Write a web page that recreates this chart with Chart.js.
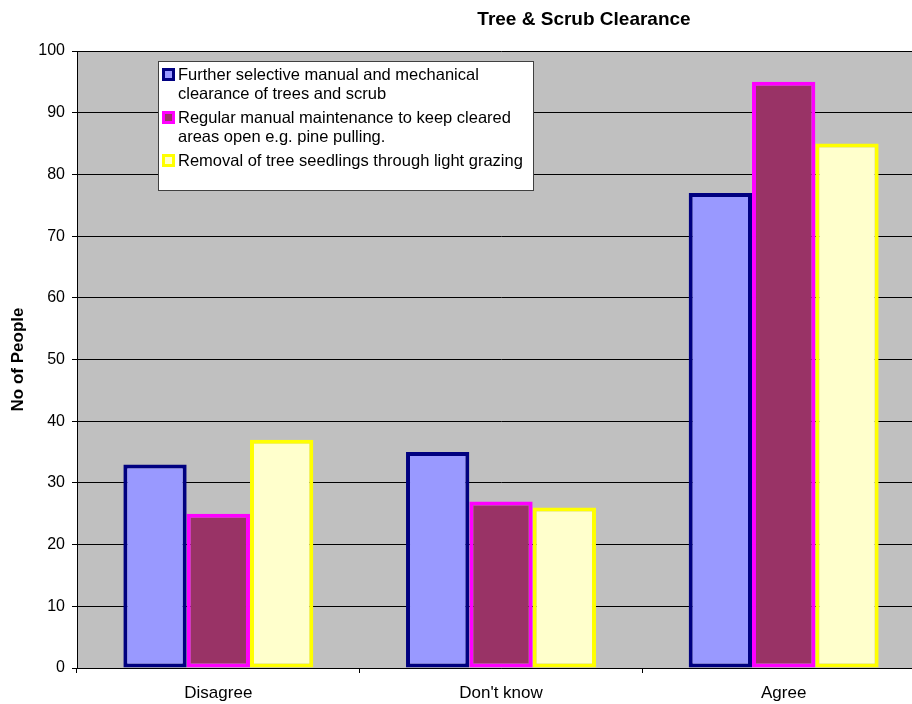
<!DOCTYPE html>
<html>
<head>
<meta charset="utf-8">
<script src="https://cdn.jsdelivr.net/npm/chart.js@4/dist/chart.umd.min.js"></script>
<style>
  html, body { margin: 0; padding: 0; background: #fff; overflow: hidden; }
  /* plot area runs past the right edge in the original, so the canvas is a bit wider */
  #wrap { width: 925px; height: 704px; }
</style>
</head>
<body>
<div id="wrap"><canvas id="chart"></canvas></div>
<script>
const categories = ["Disagree", "Don't know", "Agree"];
const seriesLabels = [
  "Further selective manual and mechanical clearance of trees and scrub",
  "Regular manual maintenance to keep cleared areas open e.g. pine pulling.",
  "Removal of tree seedlings through light grazing"
];
// legend wraps like the original
const legendLines = [
  ["Further selective manual and mechanical", "clearance of trees and scrub"],
  ["Regular manual maintenance to keep cleared", "areas open e.g. pine pulling."],
  ["Removal of tree seedlings through light grazing"]
];
const selectiveClearance = [33, 35, 77];
const manualMaintenance = [25, 27, 95];
const lightGrazing = [37, 26, 85];
const yTicks = [0, 10, 20, 30, 40, 50, 60, 70, 80, 90, 100];

const fills = ["#9999FF", "#993366", "#FFFFCC"];
const borders = ["#000080", "#FF00FF", "#FFFF00"];
const FONT = "Arial, 'Liberation Sans', sans-serif";

const bgPlugin = {
  id: "plotBg",
  beforeDraw(chart) {
    const { ctx, chartArea: a } = chart;
    ctx.save();
    ctx.fillStyle = "#C0C0C0";
    ctx.fillRect(a.left, a.top, a.right - a.left, a.bottom - a.top);
    ctx.restore();
  }
};

const titlePlugin = {
  id: "topTitle",
  afterDraw(chart) {
    const ctx = chart.ctx;
    ctx.save();
    ctx.font = "bold 19px " + FONT;
    ctx.fillStyle = "#000";
    ctx.textAlign = "center";
    ctx.textBaseline = "middle";
    ctx.fillText("Tree & Scrub Clearance", 584, 20);
    ctx.restore();
  }
};

const boxLegend = {
  id: "boxLegend",
  afterDraw(chart) {
    const ctx = chart.ctx;
    const x0 = 158, y0 = 61, w = 375, h = 129;
    ctx.save();
    ctx.fillStyle = "#fff";
    ctx.fillRect(x0, y0, w, h);
    ctx.strokeStyle = "#404040";
    ctx.lineWidth = 1;
    ctx.strokeRect(x0 + 0.5, y0 + 0.5, w, h);
    ctx.font = "16.5px " + FONT;
    ctx.textBaseline = "middle";
    const rowY = [[75, 94], [118, 137], [161]];
    chart.data.datasets.forEach((ds, i) => {
      const y = rowY[i][0];
      ctx.fillStyle = ds.borderColor;
      ctx.fillRect(162, y - 7, 13, 13);
      ctx.fillStyle = ds.backgroundColor;
      ctx.fillRect(165, y - 4, 7, 7);
      ctx.fillStyle = "#000";
      legendLines[i].forEach((t, j) => ctx.fillText(t, 178, rowY[i][j]));
    });
    ctx.restore();
  }
};

const ctx = document.getElementById("chart").getContext("2d");
new Chart(ctx, {
  type: "bar",
  data: {
    labels: categories,
    datasets: [selectiveClearance, manualMaintenance, lightGrazing].map((d, i) => ({
      label: seriesLabels[i],
      data: d,
      backgroundColor: fills[i],
      borderColor: borders[i],
      borderWidth: 4,
      borderSkipped: false,
      categoryPercentage: 0.672,
      barPercentage: 1
    }))
  },
  options: {
    responsive: true,
    maintainAspectRatio: false,
    animation: false,
    devicePixelRatio: 1,
    layout: { padding: { top: 51, right: 0, bottom: 0, left: 0 } },
    plugins: {
      legend: { display: false },
      title: { display: false },
      tooltip: { enabled: false }
    },
    scales: {
      x: {
        grid: {
          offset: true,
          drawOnChartArea: false,
          drawTicks: true,
          tickLength: 5,
          color: "#000"
        },
        border: { color: "#000", width: 1 },
        ticks: { color: "#000", font: { family: FONT, size: 17 }, padding: 10 },
        afterFit(scale) { scale.height = 36; }
      },
      y: {
        min: 0,
        max: 100,
        afterBuildTicks(scale) { scale.ticks = yTicks.map(v => ({ value: v })); },
        grid: { color: "#000", tickLength: 5, drawTicks: true },
        border: { color: "#000", width: 1 },
        ticks: { color: "#000", font: { family: FONT, size: 16 }, padding: 7 },
        title: {
          display: true,
          text: "No of People",
          color: "#000",
          padding: { top: 8, bottom: 0 },
          font: { family: FONT, size: 17, weight: "bold" }
        },
        afterFit(scale) { scale.width = 77; }
      }
    }
  },
  plugins: [bgPlugin, boxLegend, titlePlugin]
});
</script>
</body>
</html>
